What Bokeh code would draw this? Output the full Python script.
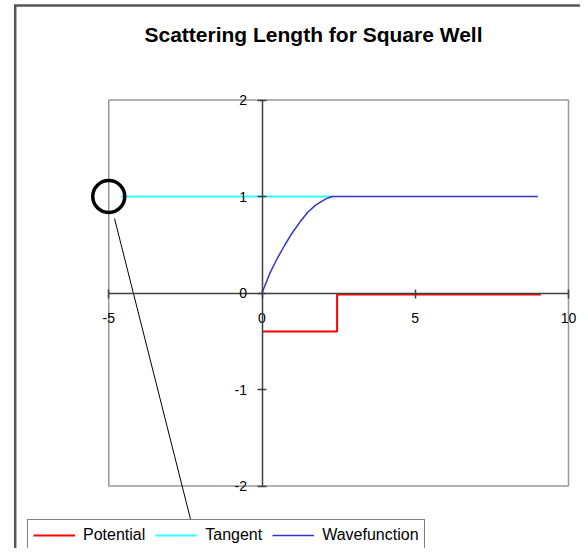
from bokeh.plotting import figure
from bokeh.models import LinearAxis, FixedTicker, Legend, LegendItem, Range1d, Label
from bokeh.embed import file_html
from bokeh.resources import INLINE

# ---- data ----
potential_x = [0, 2.45, 2.45, 9.1]
potential_y = [-0.4, -0.4, -0.015, -0.015]
tangent_x = [-4.6, 2.3]
tangent_y = [1, 1]
wave_x = [0, 0.25, 0.5, 0.75, 1.0, 1.25, 1.5, 1.75, 2.0, 2.15, 2.3, 2.45, 9.0]
wave_y = [0, 0.2, 0.36, 0.5, 0.63, 0.74, 0.84, 0.91, 0.96, 0.985, 1.0, 1.0, 1.0]
x_ticks = [-5, 0, 5, 10]
x_labels = ["-5", "0", "5", "10"]
y_ticks = [-2, -1, 0, 1, 2]
y_labels = ["-2", "-1", "0", "1", "2"]
x_lim = [-5, 10]
y_lim = [-2, 2]
marker_x = [-5]
marker_y = [1]
title = "Scattering Length for Square Well"

# ---- layout (canvas pixels) ----
W, H = 580, 548
PX_X, X0 = 30.65, 261.5   # pixels per x unit, canvas x of x=0
PX_Y, Y0 = 96.5, 292.5    # pixels per y unit, canvas y of y=0


def wx(px):
    return (px - X0) / PX_X


def wy(py):
    return (Y0 - py) / PX_Y


x_start, x_end = wx(0), wx(W)
y_end, y_start = wy(0), wy(H)

p = figure(width=W, height=H, output_backend="svg", toolbar_location=None,
           x_range=Range1d(x_start, x_end), y_range=Range1d(y_start, y_end),
           x_axis_location=None, y_axis_location=None,
           min_border=0, min_border_left=0, min_border_right=0,
           min_border_top=0, min_border_bottom=0,
           outline_line_color=None, background_fill_color="white",
           border_fill_color="white")
p.grid.visible = False

# outer chart border
p.line([wx(14.7), wx(14.7), wx(600)], [wy(600), wy(5), wy(5)],
       line_color="#555555", line_width=2.5, line_join="miter")

# plot area border
p.quad(left=[x_lim[0]], right=[x_lim[1]], bottom=[y_lim[0]], top=[y_lim[1]],
       fill_color=None, line_color="#999999", line_width=1.5)

FONT = "Liberation Sans"

xaxis = LinearAxis(fixed_location=0, bounds=(x_lim[0], x_lim[1]),
                   ticker=FixedTicker(ticks=x_ticks, minor_ticks=[]))
xaxis.major_label_overrides = {t: l for t, l in zip(x_ticks, x_labels)}
yaxis = LinearAxis(fixed_location=0, bounds=(y_lim[0], y_lim[1]),
                   ticker=FixedTicker(ticks=y_ticks, minor_ticks=[]))
yaxis.major_label_overrides = {t: l for t, l in zip(y_ticks, y_labels)}
for ax in (xaxis, yaxis):
    ax.axis_line_color = "#404040"
    ax.axis_line_width = 1.5
    ax.major_tick_line_color = "#404040"
    ax.major_tick_line_width = 1.5
    ax.major_tick_in = 4
    ax.major_tick_out = 5
    ax.minor_tick_line_color = None
    ax.major_label_text_font = FONT
    ax.major_label_text_font_size = "14px"
    ax.major_label_text_color = "black"
xaxis.major_label_standoff = 15
yaxis.major_label_standoff = 10
p.add_layout(xaxis, "below")
p.add_layout(yaxis, "left")

r_pot = p.line(potential_x, potential_y, line_color="#FF0000", line_width=2)
r_tan = p.line(tangent_x, tangent_y, line_color="#33FFFF", line_width=2)
r_wav = p.line(wave_x, wave_y, line_color="#3333CC", line_width=1.5)

# callout circle and leader line
p.circle(x=marker_x, y=marker_y, radius=16, radius_units="screen",
         fill_color=None, line_color="black", line_width=3.5)
p.segment(x0=[wx(114)], y0=[wy(218)], x1=[wx(203)], y1=[wy(570)],
          line_color="black", line_width=1)

# title
p.add_layout(Label(x=wx(313), y=wy(34), text=title, text_font=FONT,
                   text_font_style="bold", text_font_size="21px",
                   text_align="center", text_baseline="middle",
                   text_color="black"))

legend = Legend(items=[LegendItem(label="Potential", renderers=[r_pot]),
                       LegendItem(label="Tangent", renderers=[r_tan]),
                       LegendItem(label="Wavefunction", renderers=[r_wav])],
                orientation="horizontal", location=(27, -3))
legend.margin = 0
legend.padding = 5
legend.spacing = 10
legend.glyph_width = 42
legend.glyph_height = 20
legend.label_height = 20
legend.label_standoff = 8
legend.label_text_font = FONT
legend.label_text_font_size = "16px"
legend.label_text_color = "black"
legend.border_line_color = "black"
legend.border_line_width = 1.5
legend.background_fill_alpha = 1
p.add_layout(legend)

open("out.html", "w").write(file_html(p, INLINE))
